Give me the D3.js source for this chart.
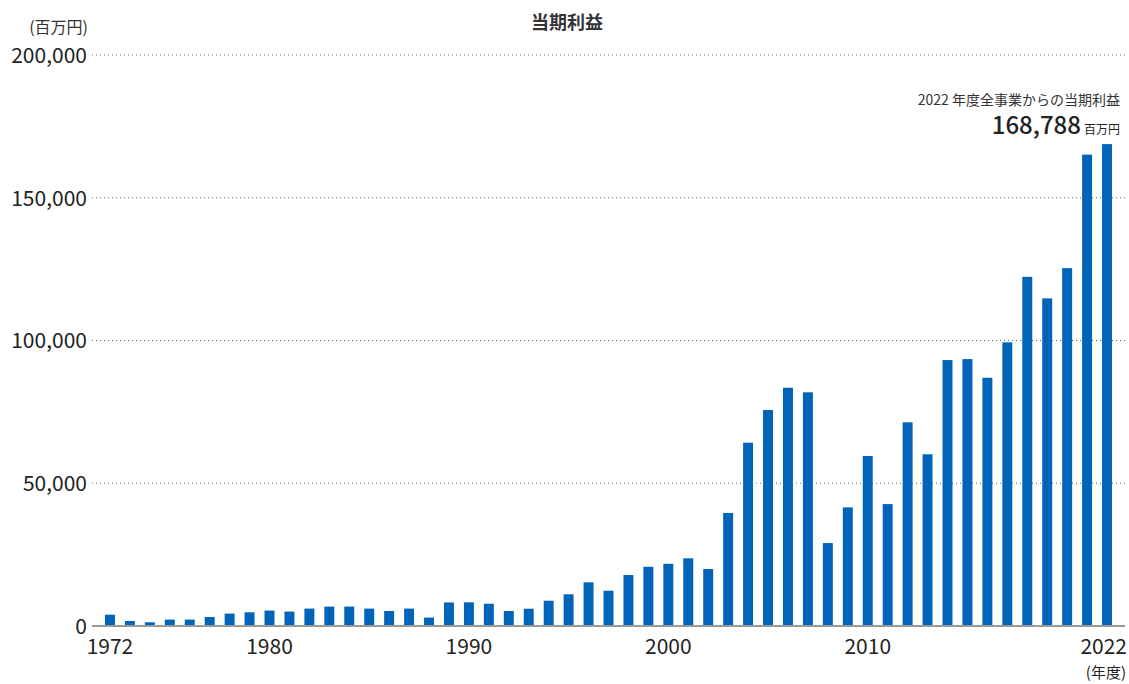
<html>
<meta charset="utf-8" />
<head>
<title>当期利益</title>
<script src="https://cdn.jsdelivr.net/npm/d3@7" type="text/javascript"></script>
<style>
	body { margin: 0; background: #fff; }
	text { font-family: "Noto Sans CJK JP", "Noto Sans", sans-serif; }
</style>
</head>
<body>
<svg width="1129" height="684"></svg>
<script>
// 年度
const years = d3.range(1972, 2023);
// 当期利益（百万円）
const profits = [
	3950, 1750, 1300, 2250, 2250, 3150, 4350, 4800, 5400, 5050,
	6100, 6800, 6800, 6100, 5250, 6100, 2950, 8250, 8300, 7800,
	5250, 6050, 8850, 11100, 15300, 12350, 17850, 20750, 21800, 23700,
	19950, 39600, 64200, 75650, 83450, 81850, 29050, 41550, 59550, 42700,
	71350, 60150, 93150, 93500, 86950, 99350, 122300, 114750, 125350, 165100,
	168788
];
const yTicks = [0, 50000, 100000, 150000, 200000];
const xTicks = [1972, 1980, 1990, 2000, 2010, 2022];

const data = years.map((y, i) => ({ year: y, value: profits[i] }));

const svg = d3.select('svg');

let xScale = d3.scaleBand().domain(years).range([100, 1117]).paddingInner(0.5).paddingOuter(0.25);
let yScale = d3.scaleLinear().domain([0, 200000]).range([626, 55]);

// 点線のグリッド
svg.append('g')
	.selectAll('line')
	.data(yTicks.filter(d => d > 0))
	.join('line')
	.attr('x1', 92).attr('x2', 1125)
	.attr('y1', d => yScale(d)).attr('y2', d => yScale(d))
	.attr('stroke', '#666')
	.attr('stroke-width', 1)
	.attr('stroke-dasharray', '1,3');

// y軸ラベル
let yAxis = d3.axisLeft(yScale).tickValues(yTicks).tickSize(0).tickPadding(0).tickFormat(d3.format(','));
let yAxisG = svg.append('g').attr('transform', 'translate(87,0)').call(yAxis);
yAxisG.select('.domain').remove();
yAxisG.selectAll('text').attr('font-size', 21).attr('fill', '#222').attr('dy', '0.35em');

// 棒
svg.append('g')
	.selectAll('rect')
	.data(data)
	.join('rect')
	.attr('x', d => xScale(d.year))
	.attr('width', xScale.bandwidth())
	.attr('y', d => yScale(d.value))
	.attr('height', d => yScale(0) - yScale(d.value))
	.attr('fill', '#0064b9');

// 基準線
svg.append('line')
	.attr('x1', 92).attr('x2', 1125)
	.attr('y1', yScale(0)).attr('y2', yScale(0))
	.attr('stroke', '#999')
	.attr('stroke-width', 2);

// x軸ラベル
let xAxis = d3.axisBottom(xScale).tickValues(xTicks).tickSize(0).tickPadding(0);
let xAxisG = svg.append('g').attr('transform', 'translate(0,' + (yScale(0) + 13) + ')').call(xAxis);
xAxisG.select('.domain').remove();
xAxisG.selectAll('text').attr('font-size', 21).attr('fill', '#222').attr('dy', '0.71em');
xAxisG.selectAll('text').filter(d => d === 2022).attr('text-anchor', 'end').attr('dx', 20);

svg.append('text')
	.attr('x', 1126).attr('y', 678)
	.attr('text-anchor', 'end')
	.attr('font-size', 15).attr('fill', '#222')
	.text('(年度)');

// タイトル・単位
svg.append('text')
	.attr('x', 567).attr('y', 29)
	.attr('text-anchor', 'middle')
	.attr('font-size', 18).attr('font-weight', 'bold').attr('fill', '#333')
	.text('当期利益');

svg.append('text')
	.attr('x', 88).attr('y', 33)
	.attr('text-anchor', 'end')
	.attr('font-size', 16).attr('fill', '#333')
	.text('(百万円)');

// 注記
const last = data[data.length - 1];
svg.append('text')
	.attr('x', 1120).attr('y', 105)
	.attr('text-anchor', 'end')
	.attr('font-size', 14).attr('fill', '#333')
	.text(last.year + ' 年度全事業からの当期利益');

let note = svg.append('text')
	.attr('x', 1120).attr('y', 134)
	.attr('text-anchor', 'end')
	.attr('fill', '#222');
note.append('tspan').attr('font-size', 24).attr('font-weight', 500).text(d3.format(',')(last.value));
note.append('tspan').attr('font-size', 12).attr('dx', 3).text('百万円');
</script>
</body>
</html>
